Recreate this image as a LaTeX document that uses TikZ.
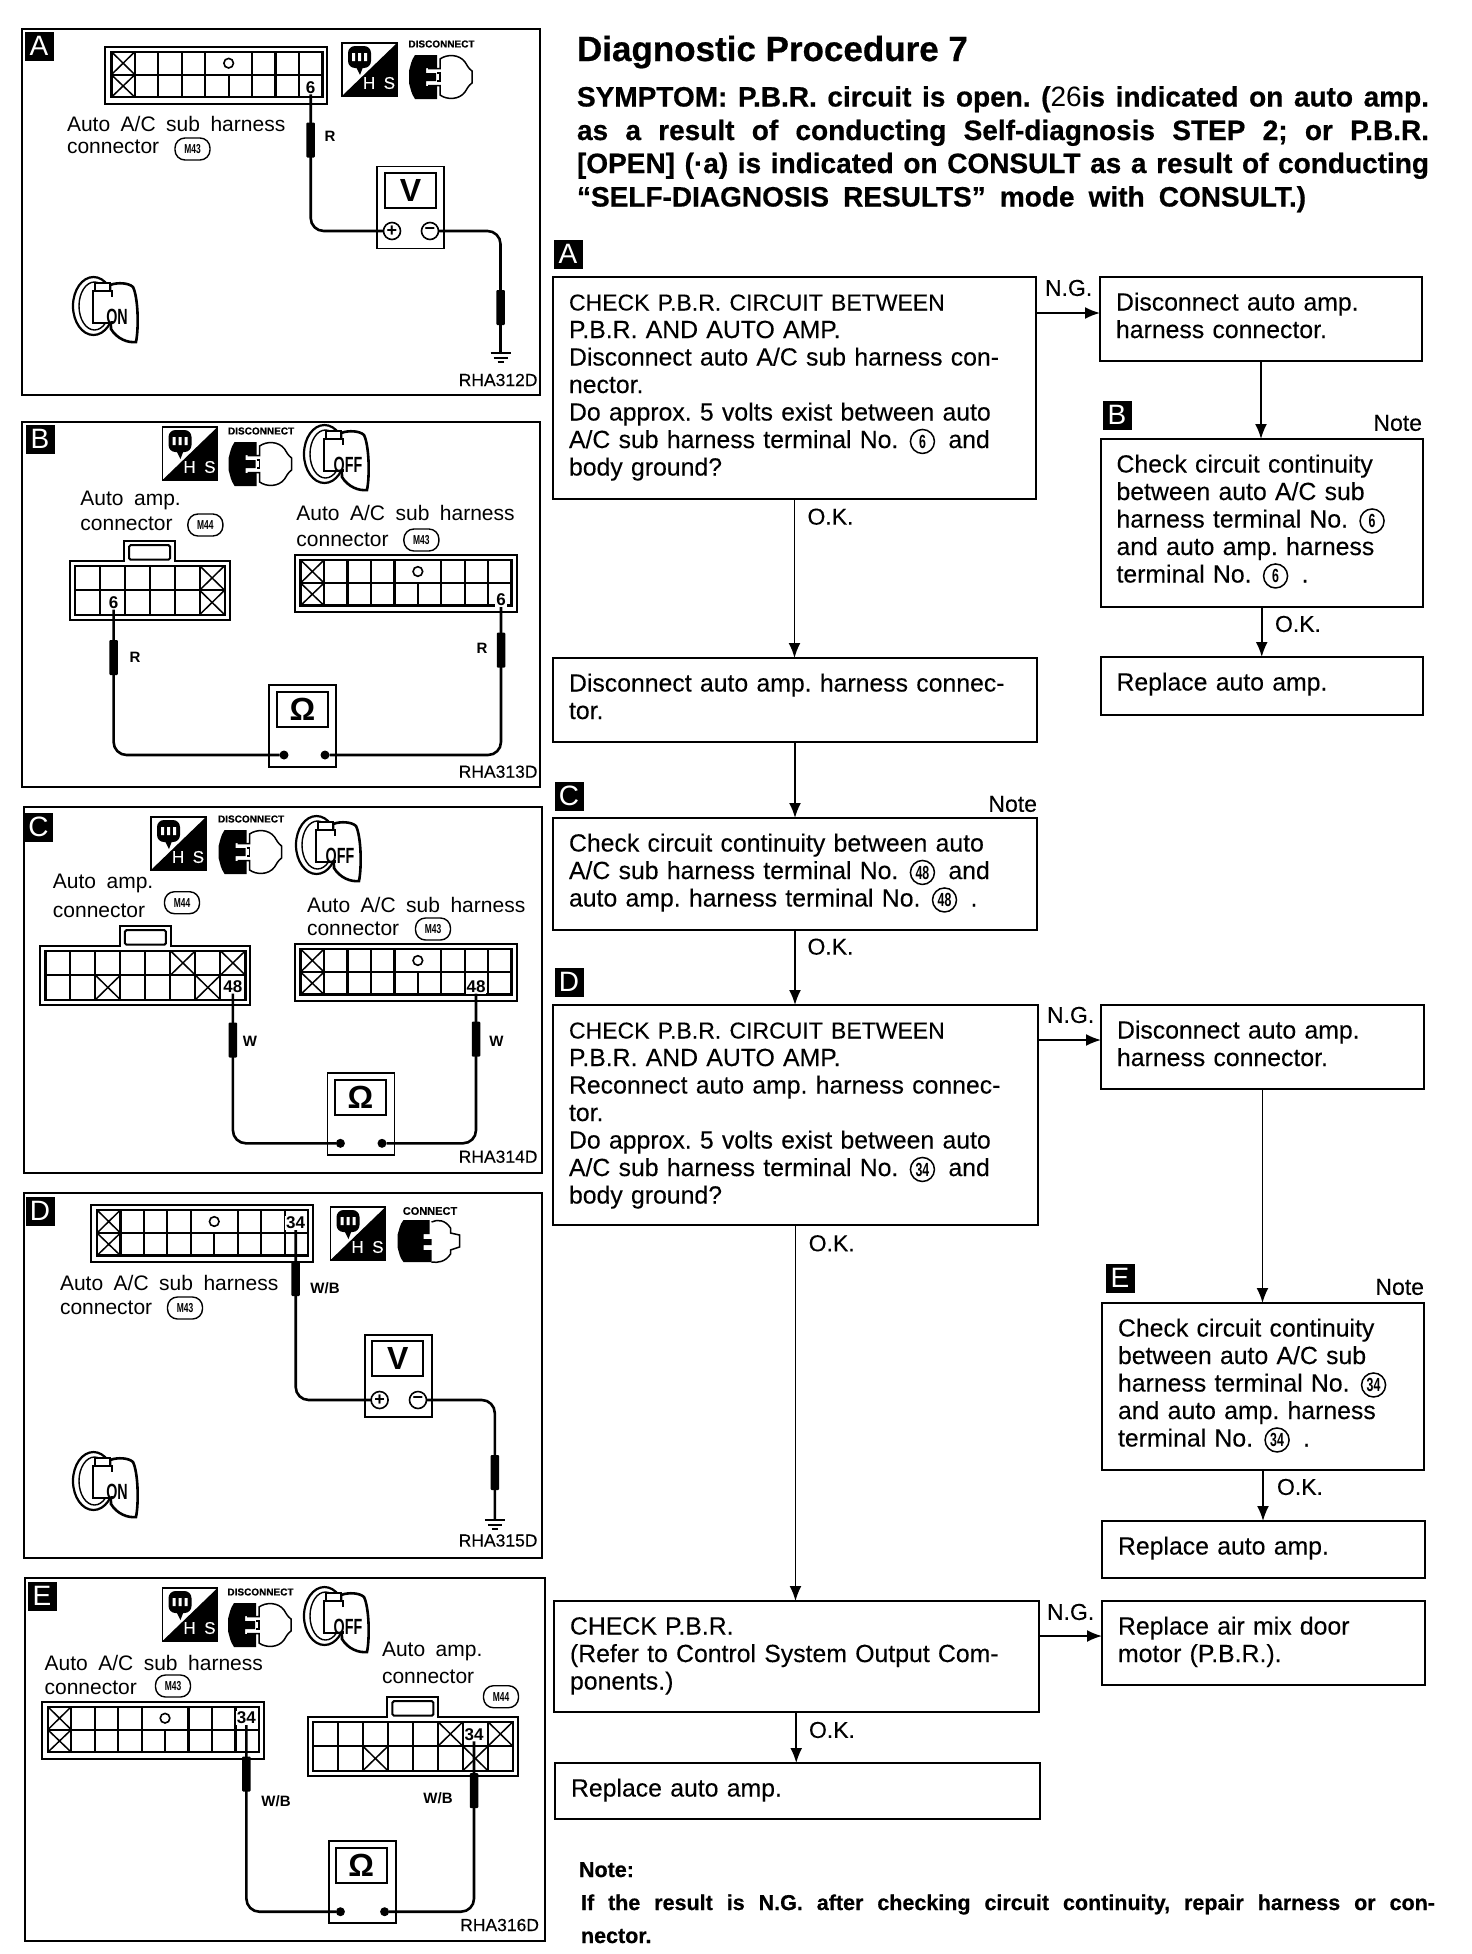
\documentclass[tikz,border=0pt]{standalone}
\usepackage{fontspec}
\setmainfont{Liberation Sans}
\newfontfamily\panelfont[WordSpace=1.8]{Liberation Sans}
\newfontfamily\flowfont[WordSpace=1.3, FakeBold=0.2]{Liberation Sans}
\newfontfamily\narrowfont[FakeStretch=0.65]{Liberation Sans}
\newfontfamily\heavyfont[FakeBold=0.6]{Liberation Sans Bold}
\usetikzlibrary{arrows.meta, calc}
\newcommand{\termno}[1]{\hspace{3pt}\tikz[baseline=(tno.base)]\node[circle, draw, line width=1.5pt, minimum size=24pt, inner sep=0pt, text width=, text height=, text depth=, align=center, font=\fontsize{19}{19}\selectfont\narrowfont\bfseries] (tno) {#1};\hspace{5pt}}
\newcommand{\fullline}[2]{\hbox to #1pt{#2}}
\newcommand{\capsline}[1]{{\fontsize{23}{27.5}\selectfont #1}}
\tikzset{
  every node/.style={inner sep=0pt, outer sep=0pt},
  frame/.style={line width=2pt},
  stepmark/.style={fill=black, text=white, minimum width=29pt, minimum height=29pt, font=\fontsize{28}{28}\selectfont},
  flowbox/.style n args={2}{draw, line width=2pt, anchor=north west, align=left, inner xsep=16pt, inner ysep=0pt,
    text width=#1pt-32pt, text height=33.5pt, text depth=#2pt-33.5pt, font=\fontsize{24.8}{27.5}\selectfont\flowfont},
  flowtag/.style={font=\fontsize{23}{23}\selectfont\flowfont},
  flowarrow/.style={-{Latex[length=15pt, width=12pt]}, line width=1.8pt},
  headline/.style={anchor=base west, font=\fontsize{28}{28}\selectfont\heavyfont},
  noteline/.style={anchor=base west, font=\fontsize{21.5}{21.5}\selectfont\heavyfont},
  pnltext/.style={anchor=west, font=\fontsize{21}{21}\selectfont\panelfont},
  codetext/.style={anchor=east, font=\fontsize{17.5}{17.5}\selectfont\flowfont},
  colortext/.style={font=\fontsize{15}{15}\selectfont\bfseries},
  tagoval/.style={draw, line width=1.4pt, rounded corners=10pt, minimum width=35pt, minimum height=22pt, font=\fontsize{13}{13}\selectfont\narrowfont\bfseries},
  pinno/.style={fill=white, inner sep=1pt, font=\fontsize{17}{17}\selectfont\bfseries},
  wire/.style={line width=2.6pt, rounded corners=13pt},
  probe/.style={fill=black, minimum width=8.5pt, minimum height=35pt, rounded corners=1pt},
  meterbox/.style={draw, line width=1.8pt, minimum width=67pt, minimum height=82pt},
  meterface/.style={draw, line width=1.8pt, minimum width=51pt, minimum height=35pt, font=\fontsize{32}{32}\selectfont\bfseries},
  plusterm/.style={circle, draw, line width=1.6pt, minimum size=17pt, font=\fontsize{18}{18}\selectfont\bfseries},
  dotterm/.style={circle, fill=black, minimum size=9pt},
  pics/subconn/.style={code={
    \draw[line width=2pt] (0,0) rectangle (222,57);
    \draw[line width=2.3pt] (6,5) rectangle (217,50.5);
    \draw[line width=2.3pt] (6,28) -- (217,28);
    \foreach \k in {1,2,3,4,6,7,8} \draw[line width=2.2pt] ({6+23.45*\k},5) -- ({6+23.45*\k},28);
    \foreach \k in {1,...,8} \draw[line width=2.2pt] ({6+23.45*\k},28) -- ({6+23.45*\k},50.5);
    \draw[line width=1.5pt] (6,5) -- (29.45,28) (29.45,5) -- (6,28) (6,28) -- (29.45,50.5) (29.45,28) -- (6,50.5);
    \draw[line width=1.6pt] (123.25,16.5) circle (4.8);
  }},
  pics/ampconn/.style n args={2}{code={
    \pgfmathsetmacro{\wd}{10+25*#1}
    \pgfmathsetmacro{\tabl}{\wd/2-25.5}
    \pgfmathsetmacro{\tabr}{\wd/2+25.5}
    \draw[line width=2pt] (0,0) -- (\tabl,0) -- (\tabl,-20) -- (\tabr,-20) -- (\tabr,0) -- (\wd,0) -- (\wd,59) -- (0,59) -- cycle;
    \draw[line width=2pt, rounded corners=1.5pt] (\tabl+5,-15.5) rectangle (\tabr-5,-1);
    \draw[line width=2.2pt] (5,5) rectangle (\wd-5,54);
    \draw[line width=2.2pt] (5,29) -- (\wd-5,29);
    \foreach \k in {1,...,#1} \draw[line width=2pt] ({5+25*\k},5) -- ({5+25*\k},54);
    \foreach \cx/\cy in {#2} \draw[line width=1.5pt]
      ({5+25*(\cx-1)},{5+24.5*(\cy-1)}) -- ({5+25*\cx},{5+24.5*\cy})
      ({5+25*\cx},{5+24.5*(\cy-1)}) -- ({5+25*(\cx-1)},{5+24.5*\cy});
  }},
  pics/hsicon/.style={code={
    \draw[line width=1.5pt] (0,0) rectangle (55,53);
    \fill (0,53) -- (55,0) -- (55,53) -- cycle;
    \fill[rounded corners=7pt] (6,3) rectangle (29,25);
    \fill (14,24) -- (18,32) -- (21,24) -- cycle;
    \fill[white] (10,10) rectangle (13,18) (16,10) rectangle (19,18) (22,10) rectangle (25,18);
    \node[text=white, font=\fontsize{17}{17}\selectfont\flowfont] (-t) at (37,40) {H\,\,\,S};
  }},
  pics/plugicon/.style={code={
    \fill (6,0) -- (28,0) -- (28,13) -- (17,13) -- (17,18) -- (27,18) -- (27,26) -- (17,26) -- (17,31) -- (28,31) -- (28,44) -- (6,44)
      .. controls (2,38) and (2,35) .. (0,28) -- (0,16) .. controls (2,9) and (2,6) .. (6,0) -- cycle;
    \draw[line width=1.5pt] (19,13.5) -- (31,13.5) -- (31,4) .. controls (38,-1) and (50,-1) .. (56,7) .. controls (58,10) and (59,13) .. (63,16) -- (63,28)
      .. controls (59,31) and (58,34) .. (56,37) .. controls (50,45) and (38,45) .. (31,40) -- (31,30.5) -- (19,30.5);
    \draw[line width=1.5pt] (28,18) -- (31,18) -- (31,26) -- (28,26);
    \node[font=\fontsize{10}{10}\selectfont\heavyfont] (-t) at (32.5,-11) {DISCONNECT};
  }},
  pics/plugjoined/.style={code={
    \fill (6,0) -- (32,0) -- (32,14) -- (26,14) -- (26,19) -- (34,19) -- (34,25) -- (26,25) -- (26,30) -- (34,30) -- (34,42) -- (6,42)
      .. controls (2,37) and (2,34) .. (0,27) -- (0,15) .. controls (2,9) and (2,5) .. (6,0) -- cycle;
    \draw[line width=1.5pt] (34,2) .. controls (40,-1) and (48,0) .. (53,8) -- (53,13) -- (62,15) -- (62,27) -- (53,30) -- (53,34) .. controls (48,42) and (40,43) .. (34,42);
    \node[font=\fontsize{11}{11}\selectfont\heavyfont] (-t) at (32.5,-9) {CONNECT};
  }},
  pics/keyicon/.style={code={
    \draw[line width=2.2pt] (20.5,29) ellipse (20.5 and 29);
    \draw[line width=1.4pt] (21.5,29) ellipse (15.5 and 24);
    \draw[line width=2.6pt, fill=white] (37,8) .. controls (45,5) and (56,6) .. (60,10) .. controls (65,20) and (66,50) .. (63,65) .. controls (55,66) and (44,62) .. (38,52) -- cycle;
    \draw[line width=2.4pt, fill=white] (20,14) rectangle (39,46);
    \draw[line width=1.8pt, fill=white] (22,6) rectangle (37,14);
    \fill[white] (24,20) rectangle (46,44);
    \node[font=\fontsize{22}{22}\selectfont\narrowfont\bfseries] (-t) at (44,40) {#1};
  }},
  pics/gndsym/.style={code={
    \draw[line width=1.4pt] (-10,0) -- (10,0) (-7,5) -- (7,5) (-3,9) -- (3,9);
  }},
}
\begin{document}
\frenchspacing
\begin{tikzpicture}[x=1pt, y=-1pt]
  \useasboundingbox (0,0) rectangle (1472,1954);
  \draw[frame] (22,29) rectangle (540,395);
  \node[stepmark] (markA) at (39,46) {A};
  \pic (subA) at (105.4,46.7) {subconn};
  \node[pinno] (pinA) at (310.7,87.3) {6};
  \pic (hsA) at (342,43) {hsicon};
  \pic (plugA) at (409,55) {plugicon};
  \node[pnltext] (txtA1) at (67,124) {Auto A/C sub harness};
  \node[pnltext] (txtA2) at (67,147) {connector};
  \node[tagoval] (tagA) at (192.5,149) {M43};
  \node[colortext] (colA) at (330,136) {R};
  \node[meterbox] (mtrA) at (410.4,207.5) {};
  \node[meterface] (faceA) at (410.5,190.8) {V};
  \node[plusterm] (plusA) at (392,231) {+};
  \node[plusterm] (minusA) at (430,231) {−};
  \coordinate (gndA) at (500.5,353);
  \draw[wire] (pinA.south) |- (plusA.west);
  \draw[wire] (minusA.east) -| (gndA);
  \node[probe] (prbA1) at (310.7,140) {};
  \node[probe] (prbA2) at (500.5,307.5) {};
  \pic at (gndA) {gndsym};
  \pic (keyA) at (73,277) {keyicon=ON};
  \node[codetext] (codeA) at (537.5,380) {RHA312D};

  \draw[frame] (22,422) rectangle (540,787);
  \node[stepmark] (markB) at (40,439) {B};
  \pic (hsB) at (162.5,427) {hsicon};
  \pic (plugB) at (228.6,442) {plugicon};
  \pic (keyB) at (304,425) {keyicon=OFF};
  \node[pnltext] (txtB1) at (80.4,500) {Auto amp.};
  \node[pnltext] (txtB2) at (80.4,524) {connector};
  \node[tagoval] (tagB1) at (205.4,525) {M44};
  \node[pnltext] (txtB3) at (296.4,512.7) {Auto A/C sub harness};
  \node[pnltext] (txtB4) at (296.4,540) {connector};
  \node[tagoval] (tagB2) at (421.4,540) {M43};
  \pic (ampB) at (69.6,560.7) {ampconn={6}{6/1,6/2}};
  \pic (subB) at (294.6,555) {subconn};
  \node[pinno] (pinB1) at (113.6,602.7) {6};
  \node[pinno] (pinB2) at (501,600) {6};
  \node[meterbox] (mtrB) at (302.2,725.8) {};
  \node[meterface] (faceB) at (302.4,709.7) {Ω};
  \node[dotterm] (leftB) at (284,755) {};
  \node[dotterm] (rightB) at (325,755) {};
  \draw[wire] (pinB1.south) |- (leftB);
  \draw[wire] (pinB2.south) |- (rightB);
  \node[probe] (prbB1) at (113.6,657.5) {};
  \node[probe] (prbB2) at (501,650) {};
  \node[colortext] (colB1) at (135,657) {R};
  \node[colortext] (colB2) at (482,648) {R};
  \node[codetext] (codeB) at (537.5,771.7) {RHA313D};

  \draw[frame] (24,807) rectangle (542,1173);
  \node[stepmark] (markC) at (38.4,827) {C};
  \pic (hsC) at (151,817) {hsicon};
  \pic (plugC) at (218.6,830) {plugicon};
  \pic (keyC) at (296,816) {keyicon=OFF};
  \node[pnltext] (txtC1) at (52.9,883.3) {Auto amp.};
  \node[pnltext] (txtC2) at (52.9,910.7) {connector};
  \node[tagoval] (tagC1) at (182,902.7) {M44};
  \node[pnltext] (txtC3) at (307,905) {Auto A/C sub harness};
  \node[pnltext] (txtC4) at (307,929.3) {connector};
  \node[tagoval] (tagC2) at (433,929) {M43};
  \pic (ampC) at (40.4,945.7) {ampconn={8}{6/1,8/1,3/2,7/2}};
  \pic (subC) at (294.6,944) {subconn};
  \node[pinno] (pinC1) at (232.9,986.7) {48};
  \node[pinno] (pinC2) at (476,986.7) {48};
  \node[meterbox] (mtrC) at (360.9,1114) {};
  \node[meterface] (faceC) at (360.4,1097.5) {Ω};
  \node[dotterm] (leftC) at (340.4,1143.3) {};
  \node[dotterm] (rightC) at (382,1143.3) {};
  \draw[wire] (pinC1.south) |- (leftC);
  \draw[wire] (pinC2.south) |- (rightC);
  \node[probe] (prbC1) at (232.9,1040) {};
  \node[probe] (prbC2) at (476,1039) {};
  \node[colortext] (colC1) at (250,1041.7) {W};
  \node[colortext] (colC2) at (496.4,1041.7) {W};
  \node[codetext] (codeC) at (537.5,1156.7) {RHA314D};

  \draw[frame] (24,1193) rectangle (542,1558);
  \node[stepmark] (markD) at (40,1211) {D};
  \pic (subD) at (91,1205) {subconn};
  \node[pinno] (pinD) at (295.7,1223) {34};
  \pic (hsD) at (330.5,1207) {hsicon};
  \pic (plugD) at (397.5,1220) {plugjoined};
  \node[pnltext] (txtD1) at (60,1283) {Auto A/C sub harness};
  \node[pnltext] (txtD2) at (60,1308) {connector};
  \node[tagoval] (tagD) at (185,1308) {M43};
  \node[colortext] (colD) at (325,1288) {W/B};
  \node[meterbox] (mtrD) at (398.5,1375.8) {};
  \node[meterface] (faceD) at (397.8,1358.7) {V};
  \node[plusterm] (plusD) at (379.6,1400) {+};
  \node[plusterm] (minusD) at (418,1400) {−};
  \coordinate (gndD) at (494.8,1520);
  \draw[wire] (pinD.south) |- (plusD.west);
  \draw[wire] (minusD.east) -| (gndD);
  \node[probe] (prbD1) at (295.7,1278.5) {};
  \node[probe] (prbD2) at (494.8,1472.5) {};
  \pic at (gndD) {gndsym};
  \pic (keyD) at (73,1452) {keyicon=ON};
  \node[codetext] (codeD) at (537.5,1540.5) {RHA315D};

  \draw[frame] (25,1578) rectangle (545,1941);
  \node[stepmark] (markE) at (42,1596) {E};
  \pic (hsE) at (162.5,1588) {hsicon};
  \pic (plugE) at (228,1603) {plugicon};
  \pic (keyE) at (304,1587) {keyicon=OFF};
  \node[pnltext] (txtE1) at (44.6,1662.7) {Auto A/C sub harness};
  \node[pnltext] (txtE2) at (44.6,1687.3) {connector};
  \node[tagoval] (tagE1) at (173,1686) {M43};
  \node[pnltext] (txtE3) at (382,1651) {Auto amp.};
  \node[pnltext] (txtE4) at (382,1676.7) {connector};
  \node[tagoval] (tagE2) at (501,1696.7) {M44};
  \pic (subE) at (41.8,1701.7) {subconn};
  \pic (ampE) at (307.9,1716.7) {ampconn={8}{6/1,8/1,3/2,7/2}};
  \node[pinno] (pinE1) at (246.4,1718) {34};
  \node[pinno] (pinE2) at (474,1734.3) {34};
  \node[meterbox] (mtrE) at (362.2,1882) {};
  \node[meterface] (faceE) at (361.3,1865.5) {Ω};
  \node[dotterm] (leftE) at (340.4,1911.7) {};
  \node[dotterm] (rightE) at (384.6,1911.7) {};
  \draw[wire] (pinE1.south) |- (leftE);
  \draw[wire] (pinE2.south) |- (rightE);
  \node[probe] (prbE1) at (246.4,1774) {};
  \node[probe] (prbE2) at (474,1790.5) {};
  \node[colortext] (colE1) at (276,1800.7) {W/B};
  \node[colortext] (colE2) at (438,1798) {W/B};
  \node[codetext] (codeE) at (539,1925) {RHA316D};

  \node[anchor=base west, font=\fontsize{35}{35}\selectfont\heavyfont] (title) at (577,61) {Diagnostic Procedure 7};
  \node[headline] (sym1) at (577,106.5) {\fullline{852}{SYMPTOM: P.B.R. circuit is open. ({\normalfont 26}is indicated on auto amp.}};
  \node[headline] (sym2) at (577,140) {\fullline{852}{as a result of conducting Self-diagnosis STEP 2; or P.B.R.}};
  \node[headline] (sym3) at (577,173) {\fullline{852}{[OPEN] (·a) is indicated on CONSULT as a result of conducting}};
  \node[headline] (sym4) at (577,206.5) {\fullline{729}{“SELF-DIAGNOSIS RESULTS” mode with CONSULT.)}};

  \node[stepmark] (flowA) at (568,254) {A};
  \node[flowbox={483}{222}] (chk1) at (553,277) {\capsline{CHECK P.B.R. CIRCUIT BETWEEN}\\P.B.R. AND AUTO AMP.\\Disconnect auto A/C sub harness con-\\nector.\\Do approx. 5 volts exist between auto\\A/C sub harness terminal No. \termno{6} and\\body ground?};
  \node[flowbox={322}{84}] (disc1) at (1100,277) {Disconnect auto amp.\\harness connector.};
  \node[stepmark] (flowB) at (1117,415) {B};
  \node[flowtag, anchor=east] (noteB) at (1422,423) {Note};
  \node[flowbox={322.5}{168}] (cont1) at (1100.5,439) {Check circuit continuity\\between auto A/C sub\\harness terminal No. \termno{6}\\and auto amp. harness\\terminal No. \termno{6} .};
  \node[flowbox={322.5}{58}] (repl1) at (1100.5,657) {Replace auto amp.};
  \node[flowbox={484}{84}] (disc2) at (553,658) {Disconnect auto amp. harness connec-\\tor.};
  \node[stepmark] (flowC) at (569,796) {C};
  \node[flowtag, anchor=east] (noteC) at (1037,804) {Note};
  \node[flowbox={484}{111.5}] (cont2) at (553,818) {Check circuit continuity between auto\\A/C sub harness terminal No. \termno{48} and\\auto amp. harness terminal No. \termno{48} .};
  \node[stepmark] (flowD) at (569,982) {D};
  \node[flowbox={485}{220}] (chk2) at (553,1005) {\capsline{CHECK P.B.R. CIRCUIT BETWEEN}\\P.B.R. AND AUTO AMP.\\Reconnect auto amp. harness connec-\\tor.\\Do approx. 5 volts exist between auto\\A/C sub harness terminal No. \termno{34} and\\body ground?};
  \node[flowbox={323}{84}] (disc3) at (1101,1005) {Disconnect auto amp.\\harness connector.};
  \node[stepmark] (flowE) at (1120,1278) {E};
  \node[flowtag, anchor=east] (noteE) at (1424,1287) {Note};
  \node[flowbox={322}{167}] (cont3) at (1102,1303) {Check circuit continuity\\between auto A/C sub\\harness terminal No. \termno{34}\\and auto amp. harness\\terminal No. \termno{34} .};
  \node[flowbox={323}{57}] (repl2) at (1102,1521) {Replace auto amp.};
  \node[flowbox={484.5}{111}] (chk3) at (554,1601) {CHECK P.B.R.\\(Refer to Control System Output Com-\\ponents.)};
  \node[flowbox={323}{84}] (airmix) at (1102,1601) {Replace air mix door\\motor (P.B.R.).};
  \node[flowbox={485}{56}] (repl3) at (555,1763) {Replace auto amp.};

  \draw[flowarrow] ([yshift=6pt]chk1.east |- disc1.west) -- ([yshift=6pt]disc1.west);
  \draw[flowarrow] ([yshift=7pt]chk2.east |- disc3.west) -- ([yshift=7pt]disc3.west);
  \draw[flowarrow] ([yshift=7pt]chk3.east |- airmix.west) -- ([yshift=7pt]airmix.west);
  \draw[flowarrow] (chk1.south) -- (chk1.south |- disc2.north);
  \draw[flowarrow] (disc2.south) -- (disc2.south |- cont2.north);
  \draw[flowarrow] (cont2.south) -- (cont2.south |- chk2.north);
  \draw[flowarrow] (chk2.south) -- (chk2.south |- chk3.north);
  \draw[flowarrow] (chk3.south) -- (chk3.south |- repl3.north);
  \draw[flowarrow] (disc1.south) -- (disc1.south |- cont1.north);
  \draw[flowarrow] (cont1.south) -- (cont1.south |- repl1.north);
  \draw[flowarrow] (disc3.south) -- (disc3.south |- cont3.north);
  \draw[flowarrow] (cont3.south) -- (cont3.south |- repl2.north);

  \node[flowtag, anchor=west] (ng1) at (1045,288) {N.G.};
  \node[flowtag, anchor=west] (ng2) at (1047,1015) {N.G.};
  \node[flowtag, anchor=west] (ng3) at (1047,1612) {N.G.};
  \node[flowtag, anchor=west] (ok1) at (807.5,516.7) {O.K.};
  \node[flowtag, anchor=west] (ok2) at (1275,624) {O.K.};
  \node[flowtag, anchor=west] (ok3) at (807.5,946.7) {O.K.};
  \node[flowtag, anchor=west] (ok4) at (808.7,1243.3) {O.K.};
  \node[flowtag, anchor=west] (ok5) at (1277,1487) {O.K.};
  \node[flowtag, anchor=west] (ok6) at (809,1730) {O.K.};

  \node[noteline] (note1) at (579,1877) {Note:};
  \node[noteline] (note2) at (581,1910) {\fullline{854}{If the result is N.G. after checking circuit continuity, repair harness or con-}};
  \node[noteline] (note3) at (581,1943) {nector.};
\end{tikzpicture}
\end{document}
